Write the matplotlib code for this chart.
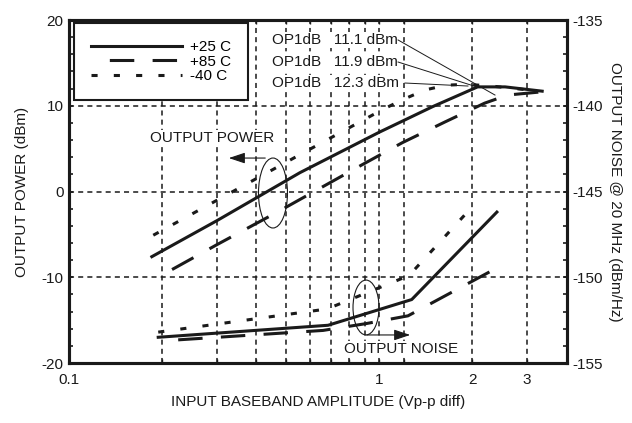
import matplotlib
matplotlib.use("Agg")
import matplotlib.pyplot as plt
from matplotlib.patches import Ellipse
from matplotlib.ticker import FixedLocator, NullFormatter, MultipleLocator

plt.rcParams['font.family'] = ['Liberation Sans', 'DejaVu Sans']
plt.rcParams['font.size'] = 11
plt.rcParams['axes.unicode_minus'] = False

# output power (dBm) vs input amplitude (Vp-p diff)
amp_op_25 = [0.185, 0.3, 0.556, 1.0, 1.49, 2.08, 2.55, 3.36]
op_25 = [-7.6, -3.4, 2.2, 6.9, 9.9, 12.2, 12.2, 11.7]
amp_op_85 = [0.215, 0.3, 0.47, 0.88, 1.19, 1.63, 2.19, 2.6, 3.3]
op_85 = [-9.1, -6.2, -2.4, 3.1, 5.7, 8.1, 10.3, 11.25, 11.6]
amp_op_m40 = [0.187, 0.556, 1.02, 1.19, 1.41, 1.65, 1.92, 2.3, 3.3]
op_m40 = [-5.1, 4.3, 9.5, 10.7, 11.85, 12.4, 12.5, 12.3, 11.7]

# output noise @ 20 MHz (dBm/Hz)
amp_n_25 = [0.194, 0.685, 1.275, 2.4]
n_25 = [-153.5, -152.8, -151.3, -146.2]
amp_n_85 = [0.225, 0.66, 0.91, 1.24, 2.32]
n_85 = [-153.65, -153.1, -152.7, -152.25, -149.6]
amp_n_m40 = [0.194, 0.68, 1.25, 1.95]
n_m40 = [-153.2, -151.85, -149.9, -146.1]

labels = ["+25 C", "+85 C", "-40 C"]
grid_x = [0.2, 0.3, 0.4, 0.5, 0.6, 0.7, 0.8, 0.9, 1.0, 1.2, 2.0, 3.0]
x_ticks = [0.1, 1, 2, 3]
x_tick_labels = ["0.1", "1", "2", "3"]

# OP1dB callouts: (text, text anchor, point on curve)
op1db = [("OP1dB   11.1 dBm", (1.152, 17.67), (2.366, 11.25)),
         ("OP1dB   11.9 dBm", (1.152, 15.1), (2.07, 12.19)),
         ("OP1dB   12.3 dBm", (1.213, 12.65), (1.936, 12.3))]

ink = "#1a1a1a"
lw = 2.2
dash = (0, (8, 6))
dash_leg = (8, (8, 6))
dot = (0, (2, 5.3))

fig = plt.figure(figsize=(6.32, 4.23), dpi=100)
ax = fig.add_axes([69/632, 60/423, 498/632, 343/423])
ax2 = ax.twinx()

ax.set_xscale("log")
ax.set_xlim(0.1, 4.04)
ax.set_ylim(-20, 20)
ax2.set_ylim(-155, -135)

# grid
for gx in grid_x:
    ax.axvline(gx, color=ink, lw=1.1, ls=(0, (3.3, 2.7)), zorder=1)
for gy in [-10, 0, 10]:
    ax.axhline(gy, color=ink, lw=1.1, ls=(0, (3.3, 2.7)), zorder=1)

ax.plot(amp_op_25, op_25, color=ink, lw=lw, ls="-", label=labels[0], zorder=3)
ax.plot(amp_op_85, op_85, color=ink, lw=lw, ls=dash, label=labels[1], zorder=3)
ax.plot(amp_op_m40, op_m40, color=ink, lw=lw, ls=dot, label=labels[2], zorder=3)

ax2.plot(amp_n_25, n_25, color=ink, lw=lw, ls="-")
ax2.plot(amp_n_85, n_85, color=ink, lw=lw, ls=dash)
ax2.plot(amp_n_m40, n_m40, color=ink, lw=lw, ls=dot)

# legend
h1 = plt.Line2D([], [], color=ink, lw=lw, ls="-")
h2 = plt.Line2D([], [], color=ink, lw=lw, ls=dash_leg)
h3 = plt.Line2D([], [], color=ink, lw=lw, ls=dot)
leg = ax.legend([h1, h2, h3], labels, loc="upper left",
                bbox_to_anchor=(0.01, 0.991), borderaxespad=0,
                handlelength=6.0, handletextpad=0.5, labelspacing=0.05,
                borderpad=1.1, fancybox=False, framealpha=1,
                edgecolor=ink, fontsize=11)
leg.get_frame().set_linewidth(1.5)
leg.set_zorder(5)

# callouts
bb = dict(facecolor="white", edgecolor="none", pad=0.5)
for txt, (tx, ty), (px, py) in op1db:
    ax.text(0.452, ty, txt, ha="left", va="center", color=ink, bbox=bb, zorder=4)
    ax.plot([tx, px], [ty, py], color=ink, lw=0.7, zorder=4)

ax.text(0.289, 6.24, "OUTPUT POWER", ha="center", va="center", color=ink, bbox=bb, zorder=4)
ax.annotate("", xy=(0.321, 3.9), xytext=(0.4385, 3.9),
            arrowprops=dict(arrowstyle="-|>,head_length=0.9,head_width=0.3",
                            color=ink, lw=0.8), zorder=4)
ax.add_patch(Ellipse((0.4096, 0.4956), 0.0582, 0.204, transform=ax.transAxes,
                     fill=False, edgecolor=ink, lw=0.8, zorder=4))

ax.text(1.178, -18.37, "OUTPUT NOISE", ha="center", va="center", color=ink, bbox=bb, zorder=4)
ax.annotate("", xy=(1.287, -16.73), xytext=(0.895, -16.73),
            arrowprops=dict(arrowstyle="-|>,head_length=0.9,head_width=0.3",
                            color=ink, lw=0.8), zorder=4)
ax.add_patch(Ellipse((0.5964, 0.1618), 0.0522, 0.160, transform=ax.transAxes,
                     fill=False, edgecolor=ink, lw=0.8, zorder=4))

# axes and ticks
for a in (ax, ax2):
    for s in a.spines.values():
        s.set_linewidth(2.2)
        s.set_color(ink)

ax.xaxis.set_major_locator(FixedLocator(x_ticks))
ax.set_xticklabels(x_tick_labels)
ax.xaxis.set_minor_locator(FixedLocator(grid_x))
ax.xaxis.set_minor_formatter(NullFormatter())
ax.tick_params(axis="x", which="both", direction="in", top=True, length=3,
               width=1, pad=7, colors=ink)
ax.yaxis.set_major_locator(MultipleLocator(10))
ax.yaxis.set_minor_locator(MultipleLocator(2))
ax.tick_params(axis="y", which="both", direction="in", length=3, width=1.2,
               pad=4, colors=ink)
ax2.yaxis.set_major_locator(MultipleLocator(5))
ax2.yaxis.set_minor_locator(MultipleLocator(1))
ax2.tick_params(axis="y", which="both", direction="in", length=3, width=1.2,
                pad=4, colors=ink)

ax.set_xlabel("INPUT BASEBAND AMPLITUDE (Vp-p diff)", labelpad=6, color=ink)
ax.set_ylabel("OUTPUT POWER (dBm)", labelpad=9, color=ink)
ax2.set_ylabel("OUTPUT NOISE @ 20 MHz (dBm/Hz)", rotation=270, labelpad=14, color=ink)

fig.savefig("out.png", dpi=100)
